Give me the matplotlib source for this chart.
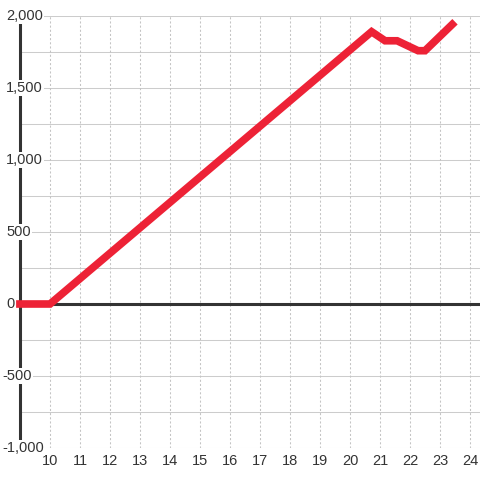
import matplotlib
matplotlib.use("Agg")
import matplotlib.pyplot as plt
import numpy as np

plt.rcParams['font.family'] = ['Liberation Sans', 'DejaVu Sans']

# series
hours = [8.87, 10.0, 20.72, 21.17, 21.57, 22.27, 22.5, 23.5]
values = [0, 0, 1891, 1828, 1828, 1759, 1759, 1960]

x_ticks = list(range(10, 25))
y_grid = list(range(-1000, 2001, 250))
y_labels = [-1000, -500, 0, 500, 1000, 1500, 2000]

ink = '#333333'
red = '#ed2236'

fig = plt.figure(figsize=(4.8, 4.8), dpi=100)
ax = fig.add_axes([0, 32 / 480, 1, 432 / 480])
ax.set_xlim(8.3333, 24.3333)
ax.set_ylim(-1000, 2000)
ax.axis('off')

# grid
ax.hlines(y_grid, 9, 24.3333, color='#cccccc', lw=0.75, zorder=1)
ax.vlines(x_ticks, -1000, 2000, color='#c4c4c4', lw=0.75,
          linestyles=(0, (2, 2)), zorder=1)

# zero line and left axis
ax.hlines(0, 9, 24.3333, color=ink, lw=2.2, zorder=2)
ax.vlines(9, -1000, 2000, color=ink, lw=2.2, zorder=2)

ax.plot(hours, values, color=red, lw=5.5, solid_joinstyle='miter',
        solid_capstyle='butt', zorder=3)

for v in y_labels:
    left = 6 if v >= 0 else 2
    ax.text(left / 480, v, f'{v:,}', transform=ax.get_yaxis_transform(),
            ha='left', va='center', fontsize=10.5, color=ink, zorder=5,
            bbox=dict(facecolor='white', edgecolor='none', pad=0.8))

for t in x_ticks:
    ax.text(t, -13 / 432, str(t), transform=ax.get_xaxis_transform(),
            ha='center', va='center', fontsize=10.5, color=ink, clip_on=False)

fig.savefig('out.png', dpi=100)
